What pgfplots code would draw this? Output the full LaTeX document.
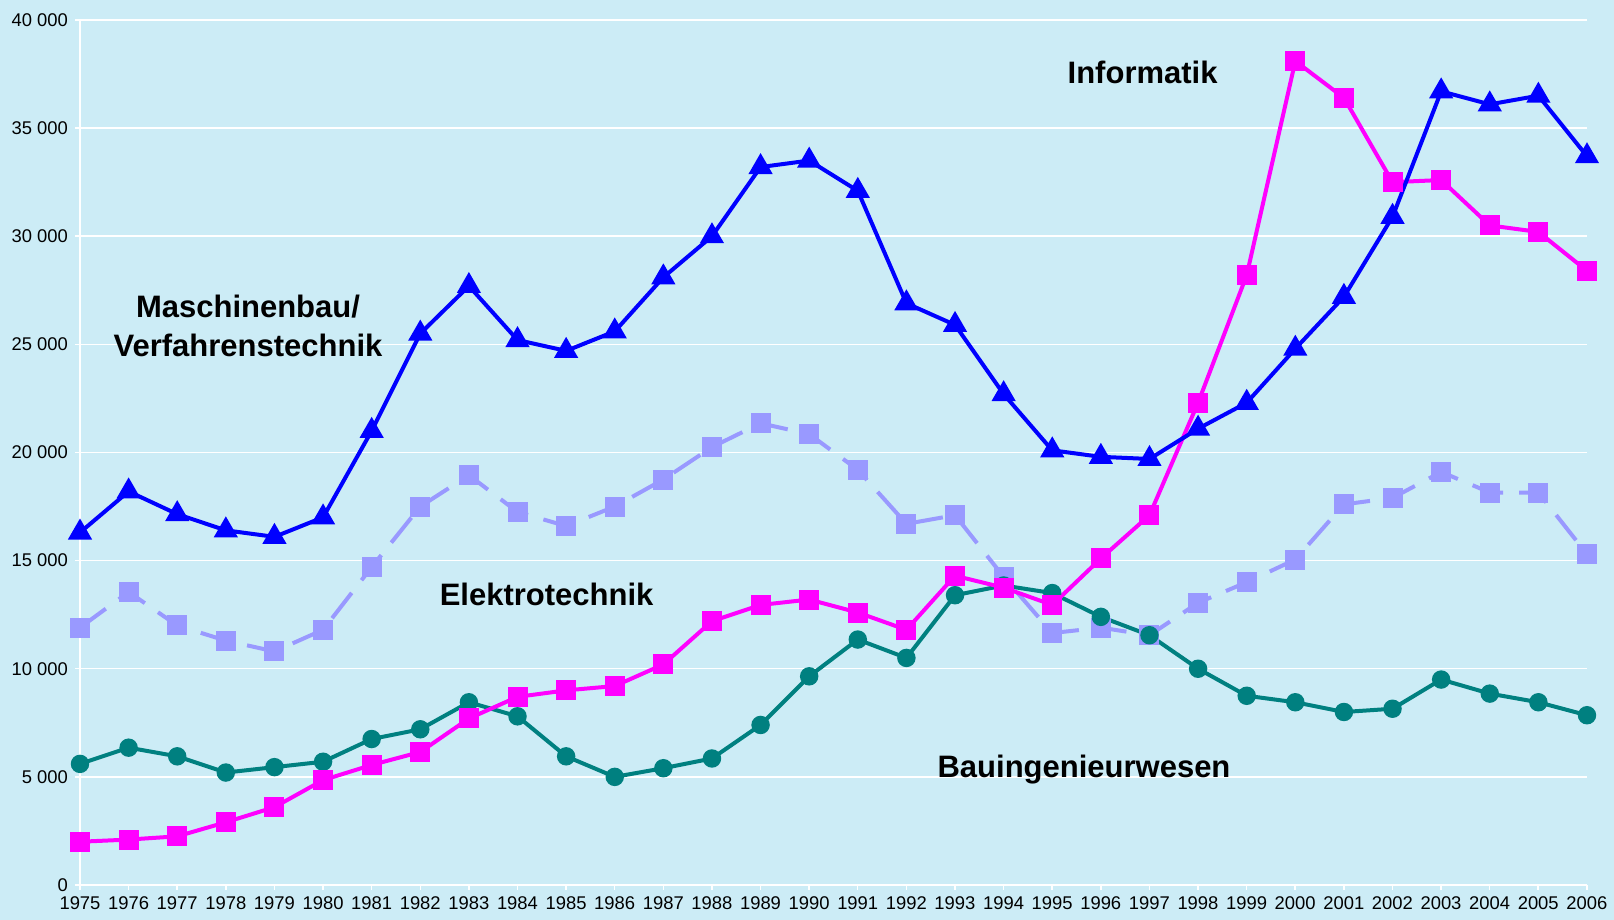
\documentclass[border=0pt]{standalone}
\usepackage{pgfplots}
\pgfplotsset{compat=1.18}
\usepackage{fontspec}
\setmainfont{Liberation Sans}
\definecolor{bgc}{RGB}{204,236,246}
\definecolor{mbc}{RGB}{0,0,255}
\definecolor{inc}{RGB}{255,0,255}
\definecolor{etc}{RGB}{153,153,255}
\definecolor{bic}{RGB}{0,128,128}
\begin{document}
\begin{tikzpicture}
\path[fill=bgc, use as bounding box] (0,0) rectangle (807pt,460pt);
\begin{axis}[
  at={(40pt,17.5pt)}, anchor=south west,
  width=753.5pt, height=432.5pt, scale only axis,
  xmin=1975, xmax=2006, ymin=0, ymax=40000,
  xtick={1975,...,2006}, ytick={0,5000,...,40000},
  scaled y ticks=false,
  axis x line*=bottom, axis y line*=left,
  axis line style={white, line width=1pt, -},
  ymajorgrids, grid style={white, line width=0.75pt},
  tick align=outside, major tick length=2.5pt,
  tick style={white, line width=0.75pt},
  /pgf/number format/assume math mode=true,
  tick label style={font=\fontsize{9.2}{10}\selectfont, black},
  xticklabel style={/pgf/number format/1000 sep=},
  yticklabel style={/pgf/number format/1000 sep={\ }},
  clip=false,
]
% Elektrotechnik
\addplot[color=etc, line width=2pt, dash pattern=on 16pt off 8pt, mark=square*, mark size=4pt, mark options={solid, fill=etc, draw=etc}] coordinates {
(1975,11900)(1976,13550)(1977,12000)(1978,11300)(1979,10800)(1980,11800)(1981,14700)(1982,17500)(1983,18950)(1984,17250)(1985,16600)(1986,17500)(1987,18750)(1988,20250)(1989,21350)(1990,20850)(1991,19200)(1992,16700)(1993,17100)(1994,14250)(1995,11650)(1996,11900)(1997,11550)(1998,13050)(1999,14000)(2000,15050)(2001,17600)(2002,17900)(2003,19100)(2004,18150)(2005,18150)(2006,15300)};
% Bauingenieurwesen
\addplot[color=bic, line width=2pt, mark=*, mark size=3.6pt, mark options={fill=bic, draw=bic}] coordinates {
(1975,5600)(1976,6350)(1977,5950)(1978,5200)(1979,5450)(1980,5700)(1981,6750)(1982,7200)(1983,8450)(1984,7800)(1985,5950)(1986,5000)(1987,5400)(1988,5850)(1989,7400)(1990,9650)(1991,11350)(1992,10500)(1993,13400)(1994,13850)(1995,13500)(1996,12400)(1997,11550)(1998,10000)(1999,8750)(2000,8450)(2001,8000)(2002,8150)(2003,9500)(2004,8850)(2005,8450)(2006,7850)};
% Informatik
\addplot[color=inc, line width=2pt, mark=square*, mark size=4pt, mark options={fill=inc, draw=inc}] coordinates {
(1975,2000)(1976,2100)(1977,2250)(1978,2900)(1979,3600)(1980,4850)(1981,5550)(1982,6150)(1983,7700)(1984,8700)(1985,9000)(1986,9200)(1987,10200)(1988,12200)(1989,12950)(1990,13200)(1991,12600)(1992,11800)(1993,14300)(1994,13750)(1995,12950)(1996,15100)(1997,17100)(1998,22300)(1999,28200)(2000,38100)(2001,36400)(2002,32500)(2003,32600)(2004,30500)(2005,30200)(2006,28400)};
% Maschinenbau
\addplot[color=mbc, line width=2pt, mark=triangle*, mark size=5pt, mark options={fill=mbc, draw=mbc}] coordinates {
(1975,16300)(1976,18200)(1977,17150)(1978,16400)(1979,16100)(1980,17000)(1981,21000)(1982,25500)(1983,27700)(1984,25200)(1985,24700)(1986,25600)(1987,28100)(1988,30000)(1989,33200)(1990,33500)(1991,32100)(1992,26900)(1993,25900)(1994,22700)(1995,20100)(1996,19800)(1997,19700)(1998,21100)(1999,22300)(2000,24800)(2001,27200)(2002,30900)(2003,36700)(2004,36100)(2005,36500)(2006,33700)};
\end{axis}
\begin{scope}[every node/.style={font=\fontsize{15.5}{19.5}\selectfont\bfseries, black, align=center}]
\node at (571.3pt,424pt) {Informatik};
\node at (124pt,297pt) {Maschinenbau/\\Verfahrenstechnik};
\node at (273.3pt,163pt) {Elektrotechnik};
\node at (542pt,75pt) {Bauingenieurwesen};
\end{scope}
\end{tikzpicture}
\end{document}
